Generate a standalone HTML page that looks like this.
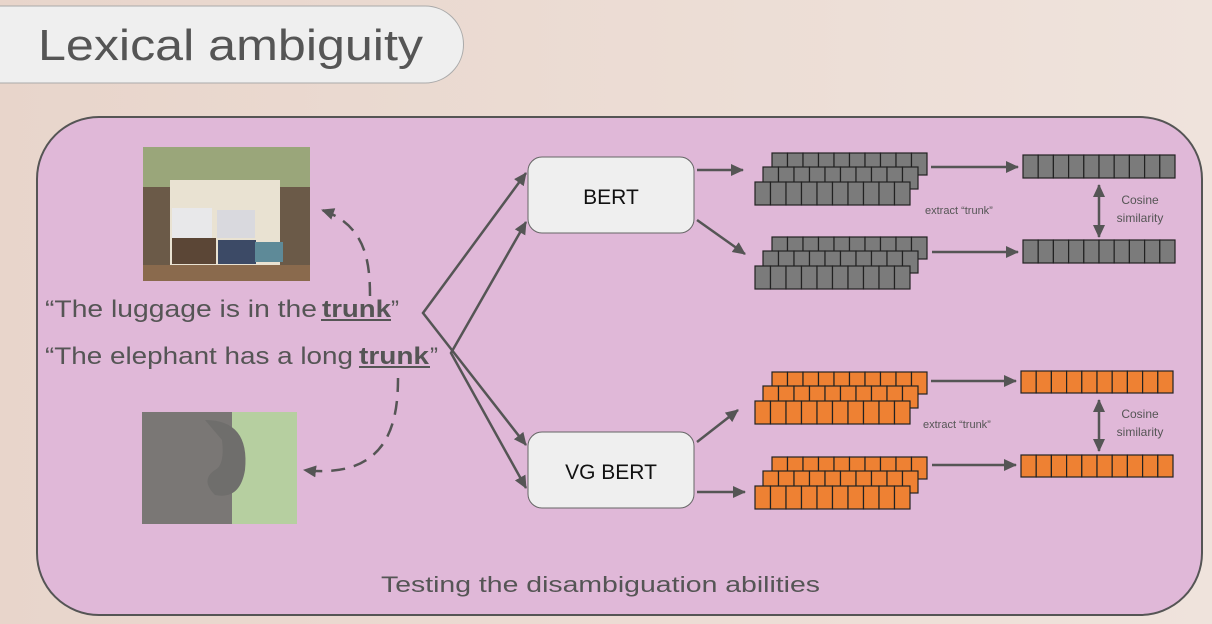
<!DOCTYPE html>
<html><head><meta charset="utf-8"><style>
html,body{margin:0;padding:0;width:1212px;height:624px;overflow:hidden;background:linear-gradient(90deg,#e8d5cb,#efe3dc);}
svg{display:block}
text{font-family:"Liberation Sans",sans-serif;fill:#555}
</style></head><body>
<svg id="s" width="1212" height="624" viewBox="0 0 1212 624" xmlns="http://www.w3.org/2000/svg">
<defs>
<marker id="a2" markerWidth="14" markerHeight="14" refX="12" refY="7" orient="auto" markerUnits="userSpaceOnUse"><path d="M0,1 L13,7 L0,13 z" fill="#555"/></marker>
<marker id="b" markerWidth="14" markerHeight="14" refX="12" refY="7" orient="auto-start-reverse" markerUnits="userSpaceOnUse"><path d="M0,1 L13,7 L0,13 z" fill="#555"/></marker>
</defs>
<path d="M-20,6 H425 A38.5,38.5 0 0 1 425,83 H-20 z" fill="#efefef" stroke="#aaa" stroke-width="1"/>
<text x="38" y="60" font-size="44" textLength="385" lengthAdjust="spacingAndGlyphs">Lexical ambiguity</text>
<rect x="37" y="117" width="1165" height="498" rx="62" fill="#e0b8d8" stroke="#555" stroke-width="2"/>
<!-- images -->
<rect x="143" y="147" width="167" height="134" fill="#6b5a48"/>
<rect x="143" y="147" width="167" height="40" fill="#9aa67a"/>
<rect x="170" y="180" width="110" height="85" fill="#e9e2d2"/>
<rect x="172" y="208" width="40" height="30" fill="#e8e8ea"/>
<rect x="217" y="210" width="38" height="28" fill="#d9d9de"/>
<rect x="172" y="238" width="44" height="26" fill="#5b4636"/>
<rect x="218" y="240" width="38" height="24" fill="#3c4a66"/>
<rect x="255" y="242" width="28" height="20" fill="#5e8a98"/>
<rect x="143" y="265" width="167" height="16" fill="#8a6a4d"/>
<rect x="142" y="412" width="155" height="112" fill="#9aa090"/>
<rect x="230" y="412" width="67" height="112" fill="#b6cfa0"/>
<rect x="142" y="412" width="90" height="112" fill="#7a7775"/>
<path d="M205,420 Q250,420 245,470 Q240,500 215,495 Q200,480 215,470 Q225,465 222,440 z" fill="#6f6e6c"/>
<!-- sentences -->
<text y="317" font-size="24"><tspan x="45" textLength="272" lengthAdjust="spacingAndGlyphs">“The luggage is in the</tspan><tspan x="322" font-weight="bold" textLength="69" lengthAdjust="spacingAndGlyphs">trunk</tspan><tspan x="391">”</tspan></text>
<line x1="321" y1="320" x2="391" y2="320" stroke="#555" stroke-width="2"/>
<text y="364" font-size="24"><tspan x="45" textLength="308" lengthAdjust="spacingAndGlyphs">“The elephant has a long</tspan><tspan x="359" font-weight="bold" textLength="70" lengthAdjust="spacingAndGlyphs">trunk</tspan><tspan x="430">”</tspan></text>
<line x1="359" y1="367" x2="430" y2="367" stroke="#555" stroke-width="2"/>
<!-- dashed -->
<path d="M370,296 C370,260 365,225 322,210" fill="none" stroke="#555" stroke-width="2.5" stroke-dasharray="14,9" marker-end="url(#a2)"/>
<path d="M398,378 C398,420 390,480 304,470" fill="none" stroke="#555" stroke-width="2.5" stroke-dasharray="14,9" marker-end="url(#a2)"/>
<!-- fan arrows -->
<g stroke="#555" stroke-width="2.5" fill="none">
<polyline points="526,173 423,313 526,445" marker-start="url(#b)" marker-end="url(#b)"/>
<polyline points="526,222 451,353 526,488" marker-start="url(#b)" marker-end="url(#b)"/>
<line x1="697" y1="170" x2="743" y2="170" marker-end="url(#a2)"/>
<line x1="697" y1="220" x2="745" y2="254" marker-end="url(#a2)"/>
<line x1="697" y1="442" x2="738" y2="410" marker-end="url(#a2)"/>
<line x1="697" y1="492" x2="745" y2="492" marker-end="url(#a2)"/>
<line x1="931" y1="167" x2="1018" y2="167" marker-end="url(#a2)"/>
<line x1="932" y1="252" x2="1018" y2="252" marker-end="url(#a2)"/>
<line x1="931" y1="381" x2="1016" y2="381" marker-end="url(#a2)"/>
<line x1="932" y1="465" x2="1016" y2="465" marker-end="url(#a2)"/>
<line x1="1099" y1="185" x2="1099" y2="237" marker-start="url(#b)" marker-end="url(#b)"/>
<line x1="1099" y1="400" x2="1099" y2="451" marker-start="url(#b)" marker-end="url(#b)"/>
</g>
<rect x="528" y="157" width="166" height="76" rx="14" fill="#efefef" stroke="#666" stroke-width="1"/>
<text x="611" y="204" font-size="21" text-anchor="middle" style="fill:#111">BERT</text>
<rect x="528" y="432" width="166" height="76" rx="14" fill="#efefef" stroke="#666" stroke-width="1"/>
<text x="611" y="479" font-size="21" text-anchor="middle" style="fill:#111">VG BERT</text>
<text x="925" y="214" font-size="11">extract “trunk”</text>
<text x="923" y="428" font-size="11">extract “trunk”</text>
<text x="1140" y="204" font-size="12" text-anchor="middle">Cosine</text>
<text x="1140" y="222" font-size="12" text-anchor="middle">similarity</text>
<text x="1140" y="418" font-size="12" text-anchor="middle">Cosine</text>
<text x="1140" y="436" font-size="12" text-anchor="middle">similarity</text>
<text x="381" y="592" font-size="22" textLength="439" lengthAdjust="spacingAndGlyphs">Testing the disambiguation abilities</text>
<g id="cells"></g>
</svg>
<script>
var g=document.getElementById('cells'),ns="http://www.w3.org/2000/svg";
function row(x,y,w,h,c){for(var i=0;i<10;i++){var r=document.createElementNS(ns,'rect');r.setAttribute('x',x+i*w/10);r.setAttribute('y',y);r.setAttribute('width',w/10);r.setAttribute('height',h);r.setAttribute('fill',c);r.setAttribute('stroke','#222');r.setAttribute('stroke-width','1.2');g.appendChild(r);}}
function stack(y,c){row(772,y,155,22,c);row(763,y+14,155,22,c);row(755,y+29,155,23,c);}
var G='#7b7b7b',O='#ee8133';
stack(153,G);stack(237,G);stack(372,O);stack(457,O);
row(1023,155,152,23,G);row(1023,240,152,23,G);row(1021,371,152,22,O);row(1021,455,152,22,O);
</script>
</body></html>
